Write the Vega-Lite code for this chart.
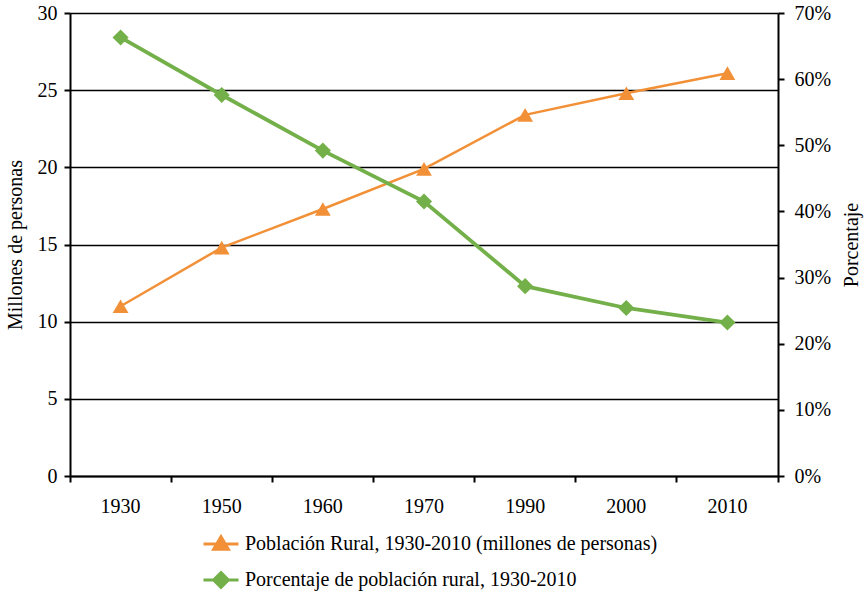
{
  "$schema": "https://vega.github.io/schema/vega-lite/v6.json",
  "width": 708,
  "height": 463,
  "autosize": {"type": "none"},
  "padding": {"left": 70, "top": 13, "right": 89, "bottom": 118},
  "background": "white",
  "config": {
    "font": "Liberation Serif",
    "view": {"stroke": null},
    "axis": {
      "labelFont": "Liberation Serif",
      "titleFont": "Liberation Serif",
      "labelColor": "#000000",
      "titleColor": "#000000",
      "labelFontSize": 20,
      "titleFontSize": 20,
      "titleFontWeight": "normal",
      "domainColor": "#000000",
      "domainWidth": 2,
      "tickColor": "#000000",
      "tickWidth": 2,
      "tickSize": 6
    },
    "legend": {
      "labelFont": "Liberation Serif",
      "labelFontSize": 20,
      "labelColor": "#000000",
      "labelLimit": 0
    }
  },
  "datasets": {
    "pob": [
      {"year": "1930", "value": 11.0, "serie": "Población Rural, 1930-2010 (millones de personas)"},
      {"year": "1950", "value": 14.8, "serie": "Población Rural, 1930-2010 (millones de personas)"},
      {"year": "1960", "value": 17.3, "serie": "Población Rural, 1930-2010 (millones de personas)"},
      {"year": "1970", "value": 19.9, "serie": "Población Rural, 1930-2010 (millones de personas)"},
      {"year": "1990", "value": 23.4, "serie": "Población Rural, 1930-2010 (millones de personas)"},
      {"year": "2000", "value": 24.8, "serie": "Población Rural, 1930-2010 (millones de personas)"},
      {"year": "2010", "value": 26.1, "serie": "Población Rural, 1930-2010 (millones de personas)"}
    ],
    "pct": [
      {"year": "1930", "value": 0.663, "serie": "Porcentaje de población rural, 1930-2010"},
      {"year": "1950", "value": 0.576, "serie": "Porcentaje de población rural, 1930-2010"},
      {"year": "1960", "value": 0.492, "serie": "Porcentaje de población rural, 1930-2010"},
      {"year": "1970", "value": 0.415, "serie": "Porcentaje de población rural, 1930-2010"},
      {"year": "1990", "value": 0.287, "serie": "Porcentaje de población rural, 1930-2010"},
      {"year": "2000", "value": 0.254, "serie": "Porcentaje de población rural, 1930-2010"},
      {"year": "2010", "value": 0.232, "serie": "Porcentaje de población rural, 1930-2010"}
    ]
  },
  "layer": [
    {
      "data": {"name": "pob"},
      "mark": {"type": "line", "strokeWidth": 2.5, "point": {"shape": "triangle-up", "size": 250, "filled": true, "opacity": 1}},
      "encoding": {
        "x": {
          "field": "year", "type": "ordinal", "sort": null,
          "scale": {"type": "band", "paddingInner": 0, "paddingOuter": 0},
          "axis": {"title": null, "labelAngle": 0, "bandPosition": 1, "tickExtra": true, "labelPadding": 14, "labelOffset": 0, "domainWidth": 2, "tickSize": 6, "grid": false}
        },
        "y": {
          "field": "value", "type": "quantitative",
          "scale": {"domain": [0, 30], "nice": false},
          "axis": {"title": "Millones de personas", "values": [0, 5, 10, 15, 20, 25, 30], "grid": true, "gridColor": "#000000", "gridWidth": 1.6, "gridOpacity": 1, "labelPadding": 7, "titlePadding": 12}
        },
        "color": {
          "field": "serie", "type": "nominal",
          "scale": {
            "domain": ["Población Rural, 1930-2010 (millones de personas)", "Porcentaje de población rural, 1930-2010"],
            "range": ["#F29037", "#74B04A"]
          },
          "legend": {
            "title": null,
            "orient": "none",
            "legendX": 141,
            "legendY": 521,
            "direction": "vertical",
            "symbolSize": 196,
            "symbolStrokeWidth": 3,
            "labelOffset": 14,
            "labelLimit": 0,
            "rowPadding": 10,
            "encode": {
              "symbols": {
                "update": {
                  "shape": [
                    {"test": "datum.value === 'Porcentaje de población rural, 1930-2010'", "value": "M-2.5,0H2.5M0,-1.05L1.05,0L0,1.05L-1.05,0Z"},
                    {"value": "M-2.5,0H2.5M0,-1.05L1.05,0.75L-1.05,0.75Z"}
                  ],
                  "fill": [
                    {"test": "datum.value === 'Porcentaje de población rural, 1930-2010'", "value": "#74B04A"},
                    {"value": "#F29037"}
                  ],
                  "stroke": [
                    {"test": "datum.value === 'Porcentaje de población rural, 1930-2010'", "value": "#74B04A"},
                    {"value": "#F29037"}
                  ],
                  "opacity": {"value": 1},
                  "fillOpacity": {"value": 1},
                  "strokeWidth": {"value": 3}
                }
              }
            }
          }
        }
      }
    },
    {
      "data": {"name": "pct"},
      "mark": {"type": "line", "strokeWidth": 3.8, "point": {"shape": "diamond", "size": 260, "filled": true, "opacity": 1}},
      "encoding": {
        "x": {"field": "year", "type": "ordinal", "sort": null},
        "y": {
          "field": "value", "type": "quantitative",
          "scale": {"domain": [0, 0.7], "nice": false},
          "axis": {"title": "Porcentaje", "orient": "right", "format": ".0%", "values": [0, 0.1, 0.2, 0.3, 0.4, 0.5, 0.6, 0.7], "grid": false, "labelPadding": 10, "titleAngle": -90, "titlePadding": 31}
        },
        "color": {"field": "serie", "type": "nominal"}
      }
    }
  ],
  "resolve": {"scale": {"y": "independent"}}
}
